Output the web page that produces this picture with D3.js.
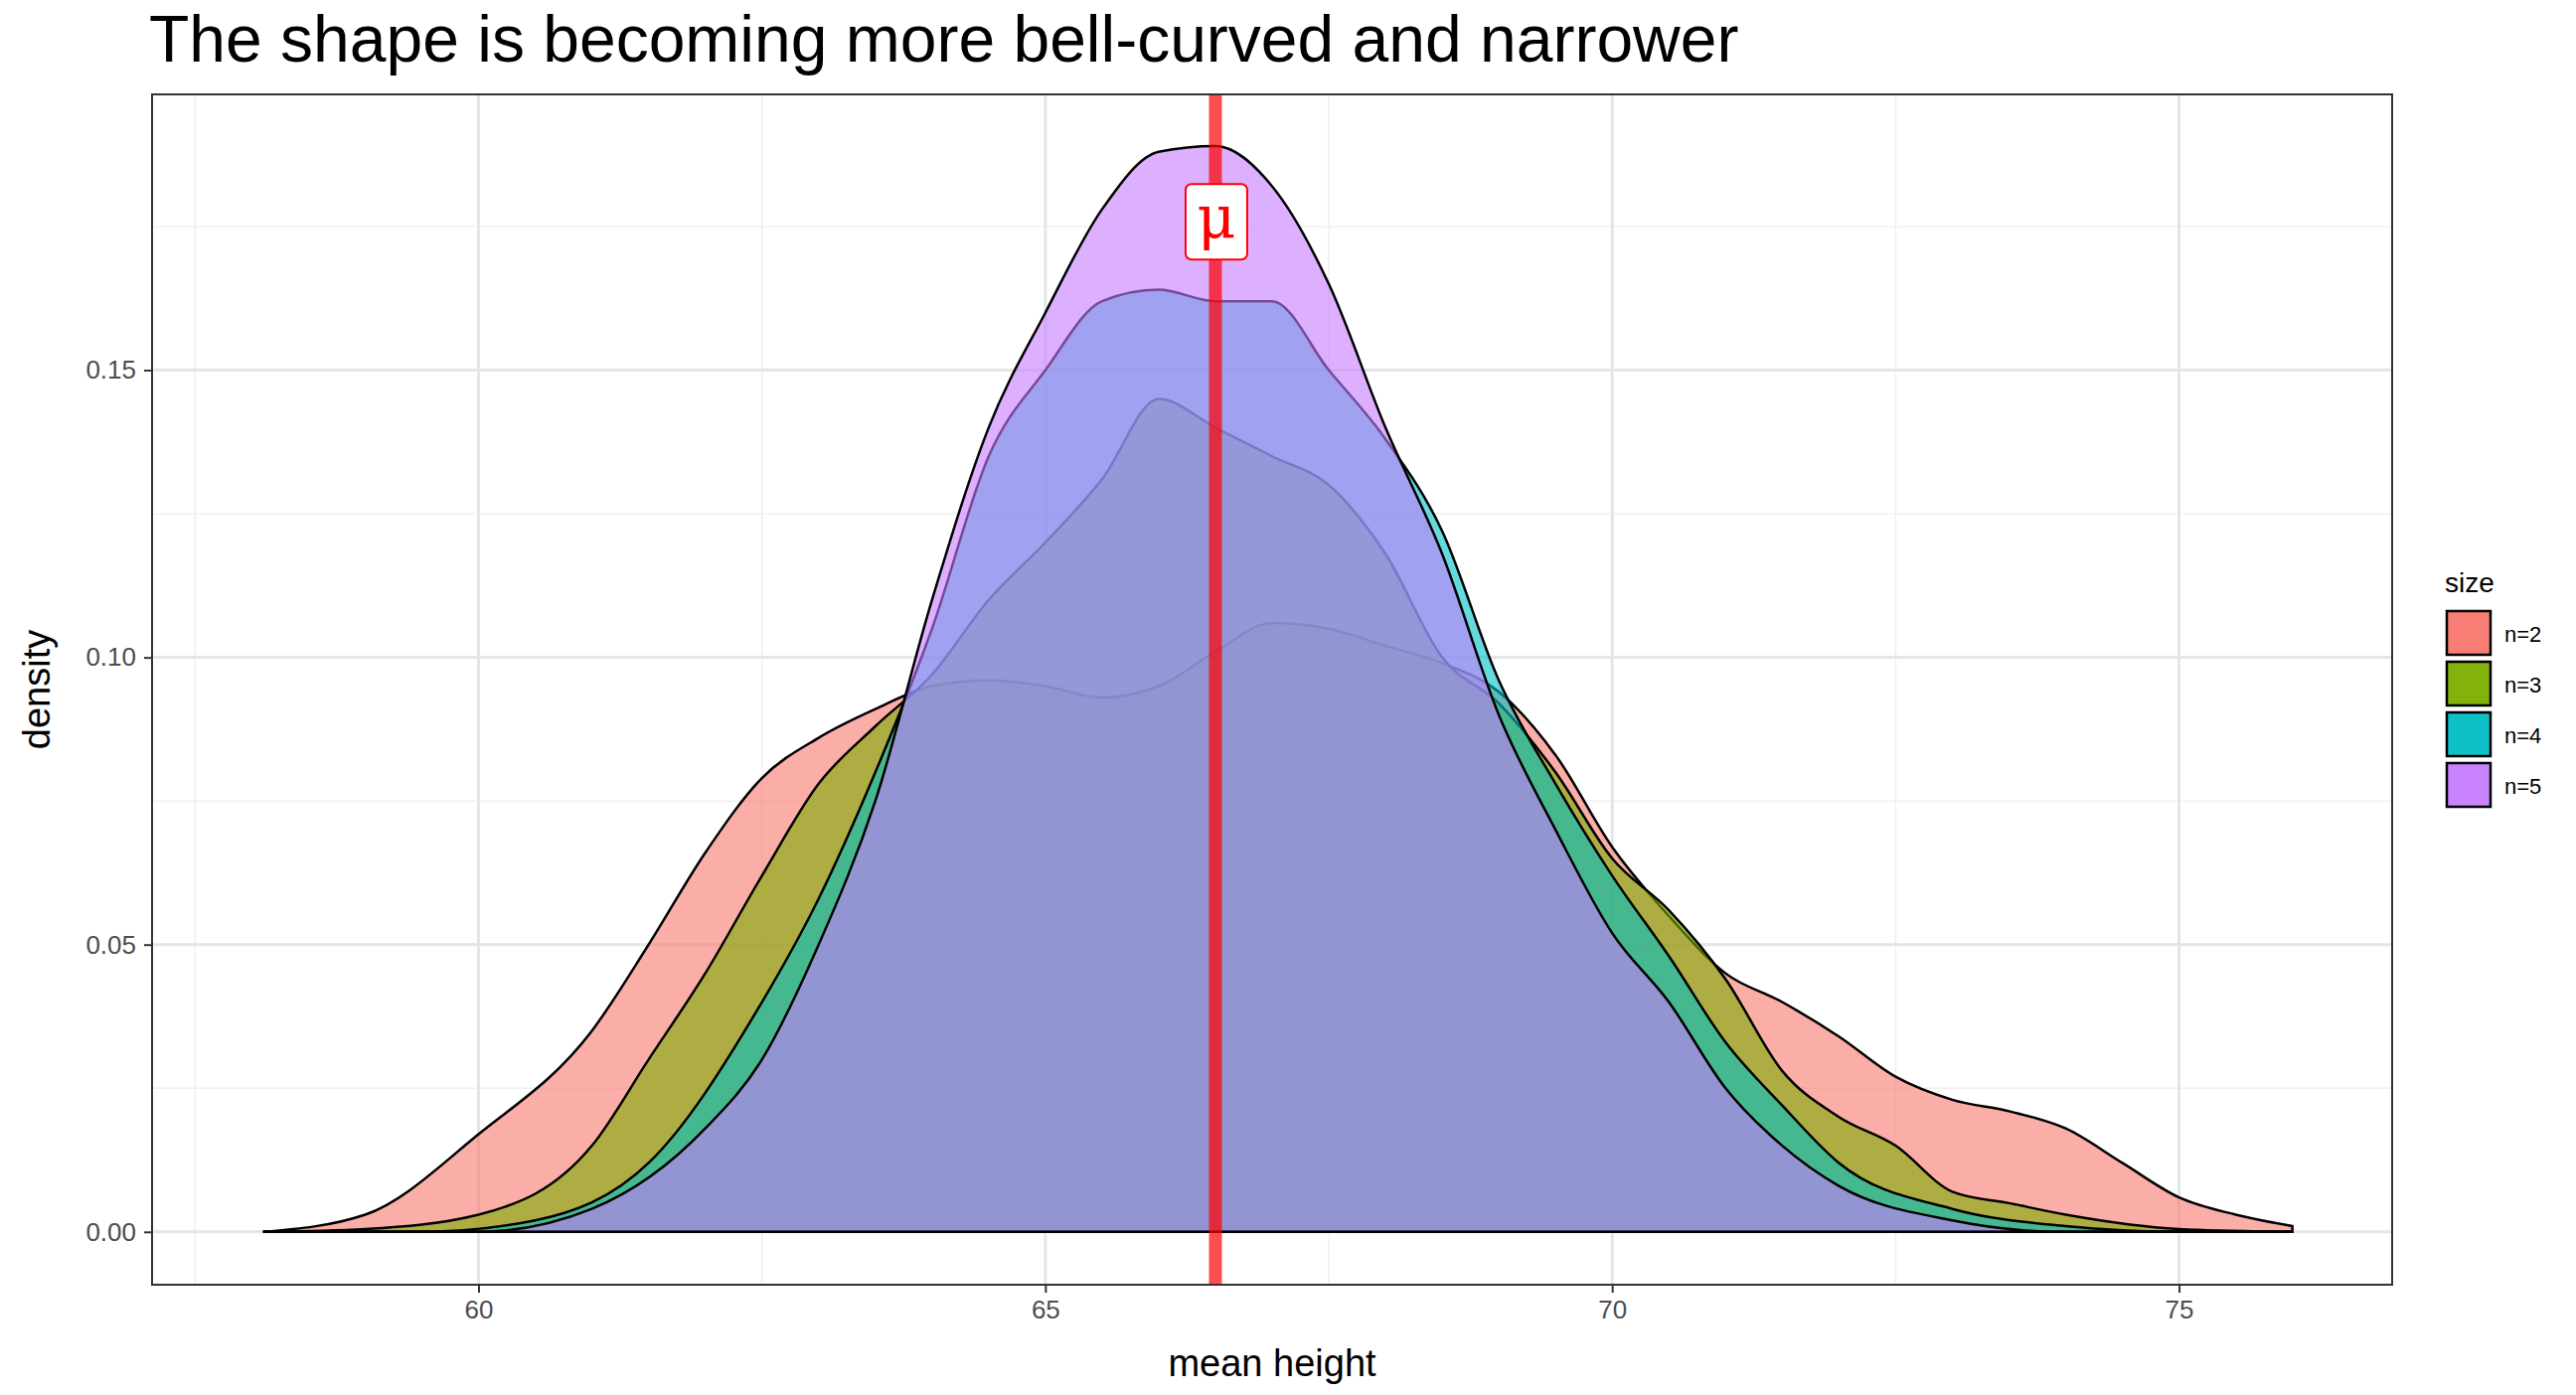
<!DOCTYPE html>
<html><head><meta charset="utf-8">
<script src="https://cdn.jsdelivr.net/npm/d3@7"></script>
<style>body{margin:0;background:#fff}</style>
</head><body>
<div class="chart"></div>
<script>
// density curves: [mean height, density]
var n2 = [[58.1,0],[59,0.003],[60,0.017],[61,0.035],[61.5,0.05],[62,0.066],[62.5,0.079],[63,0.086],[63.5,0.091],[64,0.095],[64.5,0.096],[65,0.095],[65.5,0.093],[66,0.095],[66.5,0.101],[67,0.106],[67.5,0.105],[68,0.102],[68.5,0.099],[69,0.094],[69.5,0.083],[70,0.067],[70.5,0.055],[71,0.045],[71.5,0.040],[72,0.034],[72.5,0.027],[73,0.023],[73.5,0.021],[74,0.018],[74.5,0.012],[75,0.006],[75.5,0.003],[76,0.001]];
var n3 = [[58.1,0],[59,0.0005],[60,0.003],[61,0.015],[61.5,0.03],[62,0.045],[62.5,0.062],[63,0.078],[63.5,0.088],[64,0.097],[64.5,0.11],[65,0.12],[65.5,0.131],[66,0.145],[66.5,0.14],[67,0.135],[67.5,0.13],[68,0.118],[68.5,0.10],[69,0.092],[69.5,0.08],[70,0.065],[70.5,0.056],[71,0.044],[71.5,0.028],[72,0.02],[72.5,0.015],[73,0.007],[73.5,0.005],[74,0.003],[75,0.0005],[76,0]];
var n4 = [[58.1,0],[59.5,0],[60.5,0.002],[61.5,0.012],[62.5,0.04],[63,0.058],[63.5,0.08],[64,0.105],[64.5,0.135],[65,0.15],[65.5,0.162],[66,0.164],[66.5,0.162],[67,0.162],[67.5,0.15],[68,0.138],[68.5,0.122],[69,0.096],[69.5,0.078],[70,0.062],[70.5,0.048],[71,0.033],[71.5,0.022],[72,0.012],[73,0.004],[74,0.001],[75,0],[76,0]];
var n5 = [[58.1,0],[60,0],[61,0.004],[62,0.018],[62.5,0.03],[63,0.05],[63.5,0.075],[64,0.11],[64.5,0.14],[65,0.16],[65.5,0.178],[66,0.188],[66.5,0.189],[67,0.182],[67.5,0.165],[68,0.14],[68.5,0.118],[69,0.09],[69.5,0.07],[70,0.052],[70.5,0.04],[71,0.025],[71.5,0.015],[72,0.008],[73,0.002],[74,0],[76,0]];
var sizes = ["n=2","n=3","n=4","n=5"];
var colors = ["#F8766D","#7CAE00","#00BFC4","#C77CFF"];
var xTicks = [60,65,70,75];
var yTicks = [0,0.05,0.10,0.15];
var mu = 66.5;

var W = 2592, H = 1404;
var m = {l:153, r:2407, t:95, b:1293};

var svg = d3.select(".chart").append("svg").attr("width", W).attr("height", H)
    .style("font-family", "Liberation Sans, Arial, sans-serif");

var x = d3.scaleLinear().domain([57.12,76.88]).range([m.l,m.r]);
var y = d3.scaleLinear().domain([-0.0092,0.198]).range([m.b,m.t]);

// grid
var minorX = [57.5,62.5,67.5,72.5], minorY = [0.025,0.075,0.125,0.175];
svg.selectAll(".mx").data(minorX).enter().append("line")
    .attr("x1",x).attr("x2",x).attr("y1",m.t).attr("y2",m.b).attr("stroke","#f0f0f0").attr("stroke-width",1.5);
svg.selectAll(".my").data(minorY).enter().append("line")
    .attr("y1",y).attr("y2",y).attr("x1",m.l).attr("x2",m.r).attr("stroke","#f0f0f0").attr("stroke-width",1.5);
svg.selectAll(".gx").data(xTicks).enter().append("line")
    .attr("x1",x).attr("x2",x).attr("y1",m.t).attr("y2",m.b).attr("stroke","#e5e5e5").attr("stroke-width",3);
svg.selectAll(".gy").data(yTicks).enter().append("line")
    .attr("y1",y).attr("y2",y).attr("x1",m.l).attr("x2",m.r).attr("stroke","#e5e5e5").attr("stroke-width",3);

var area = d3.area().x(function(d){return x(d[0]);}).y0(y(0)).y1(function(d){return y(d[1]);})
    .curve(d3.curveMonotoneX);
[n2,n3,n4,n5].forEach(function(s,i){
    svg.append("path").datum(s).attr("d",area)
        .attr("fill",colors[i]).attr("fill-opacity",0.6)
        .attr("stroke","#000").attr("stroke-width",2.5);
});

// mu line and label
svg.append("line").attr("x1",x(mu)).attr("x2",x(mu)).attr("y1",m.t).attr("y2",m.b)
    .attr("stroke","red").attr("stroke-opacity",0.7).attr("stroke-width",13);
svg.append("rect").attr("x",x(mu)-30).attr("y",y(0.176)-37).attr("width",62).attr("height",76)
    .attr("rx",6).attr("fill","#fff").attr("stroke","red").attr("stroke-width",2);
svg.append("text").attr("x",x(mu)+1).attr("y",y(0.176)+18).attr("text-anchor","middle")
    .attr("fill","red").attr("font-size",60).attr("font-family","DejaVu Serif, serif").text("μ");

svg.append("rect").attr("x",m.l).attr("y",m.t).attr("width",m.r-m.l).attr("height",m.b-m.t)
    .attr("fill","none").attr("stroke","#333").attr("stroke-width",2);

// axes
var xa = svg.append("g").attr("transform","translate(0,"+m.b+")")
    .call(d3.axisBottom(x).tickValues(xTicks).tickSize(8).tickPadding(8));
var ya = svg.append("g").attr("transform","translate("+m.l+",0)")
    .call(d3.axisLeft(y).tickValues(yTicks).tickFormat(d3.format(".2f")).tickSize(8).tickPadding(8));
[xa,ya].forEach(function(a){
    a.select(".domain").remove();
    a.selectAll("line").attr("stroke","#333").attr("stroke-width",2);
    a.selectAll("text").attr("font-size",26).attr("fill","#4d4d4d").attr("font-family","Liberation Sans, Arial");
});

svg.append("text").attr("x",(m.l+m.r)/2).attr("y",1385).attr("text-anchor","middle")
    .attr("font-size",38).text("mean height");
svg.append("text").attr("transform","translate(50,"+((m.t+m.b)/2)+") rotate(-90)")
    .attr("text-anchor","middle").attr("font-size",38).text("density");
svg.append("text").attr("x",150).attr("y",62).attr("font-size",66).text("The shape is becoming more bell-curved and narrower");

// legend
var lg = svg.append("g").attr("transform","translate(2460,560)");
lg.append("text").attr("x",0).attr("y",36).attr("font-size",28).text("size");
sizes.forEach(function(s,i){
    lg.append("rect").attr("x",2).attr("y",55+i*51).attr("width",44).attr("height",44)
        .attr("fill",colors[i]).attr("fill-opacity",0.95).attr("stroke","#000").attr("stroke-width",2.5);
    lg.append("text").attr("x",60).attr("y",86+i*51).attr("font-size",22).text(s);
});
</script>
</body></html>
